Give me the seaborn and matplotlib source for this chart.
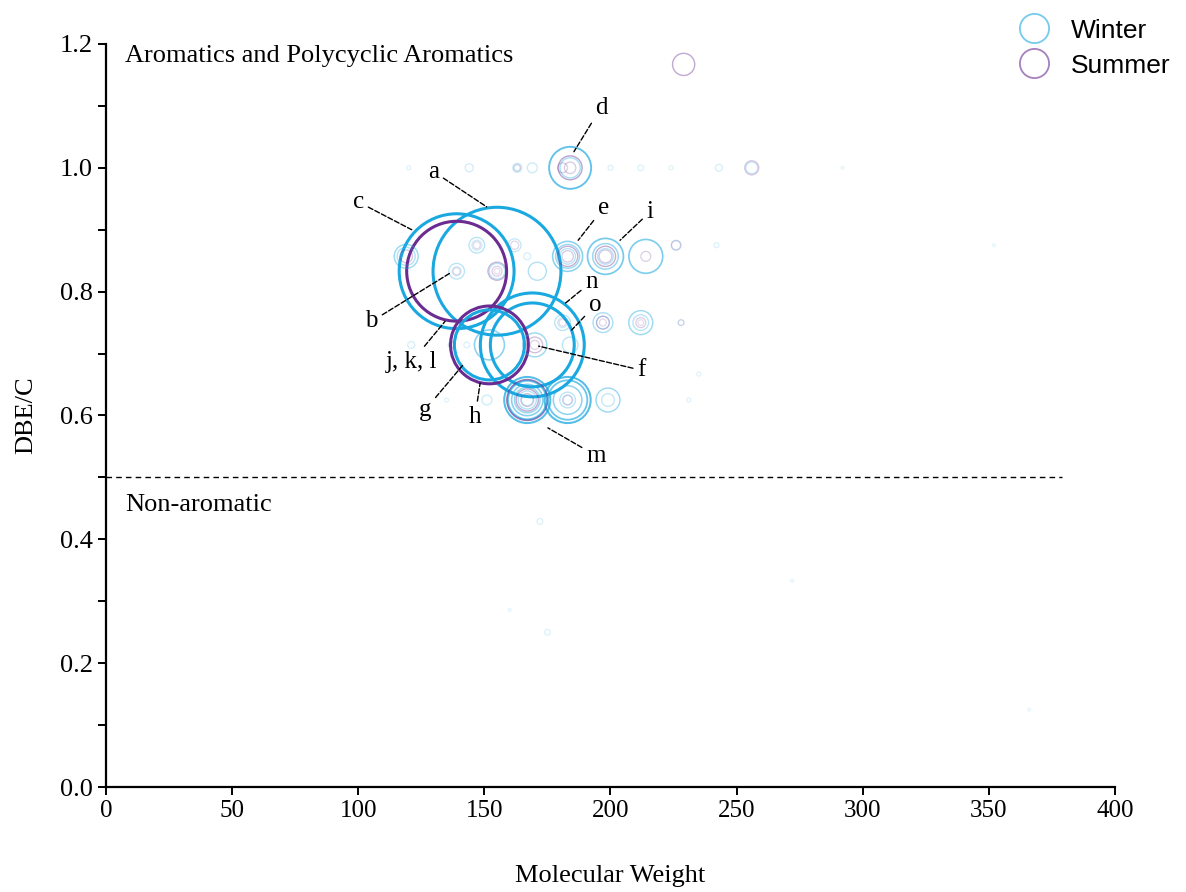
import numpy as np
import pandas as pd
import matplotlib
matplotlib.use("Agg")
import matplotlib.pyplot as plt
import seaborn as sns
from matplotlib.lines import Line2D
from matplotlib.ticker import MultipleLocator
from matplotlib.colors import to_rgba

# ---------------- data ----------------
# Winter: molecular weight, DBE/C, relative intensity
winter_mw = [120, 144, 163, 163, 169, 184, 184, 200, 212, 224, 243, 256, 292,
             119, 119, 147, 147, 139, 139, 155, 162, 167, 171,
             183, 183, 183, 198, 198, 198, 214, 226, 242, 352,
             155, 139,
             152, 152, 169, 169, 170,
             181, 181, 197, 197, 212, 212, 228,
             121, 137, 184, 143,
             167, 167, 167, 167, 167, 167,
             183, 183, 183, 183, 183,
             199, 199, 151, 135, 231, 235,
             172, 175, 160, 272, 366]
winter_dbe = [1.0, 1.0, 1.0, 1.0, 1.0, 1.0, 1.0, 1.0, 1.0, 1.0, 1.0, 1.0, 1.0,
              0.857, 0.857, 0.875, 0.875, 0.833, 0.833, 0.833, 0.875, 0.857, 0.833,
              0.857, 0.857, 0.857, 0.857, 0.857, 0.857, 0.857, 0.875, 0.875, 0.875,
              0.833, 0.833,
              0.714, 0.714, 0.714, 0.714, 0.714,
              0.75, 0.75, 0.75, 0.75, 0.75, 0.75, 0.75,
              0.714, 0.714, 0.714, 0.714,
              0.625, 0.625, 0.625, 0.625, 0.625, 0.625,
              0.625, 0.625, 0.625, 0.625, 0.625,
              0.625, 0.625, 0.625, 0.625, 0.625, 0.667,
              0.429, 0.25, 0.286, 0.333, 0.125]
winter_int = [0.1, 0.4, 0.5, 0.2, 0.6, 10.8, 2.5, 0.15, 0.2, 0.1, 0.3, 0.8, 0.05,
              3.5, 2.0, 1.5, 0.6, 1.5, 0.5, 1.5, 1.0, 0.3, 2.0,
              5.5, 3.5, 1.5, 7.9, 4.0, 1.5, 7.0, 0.6, 0.15, 0.05,
              100.0, 80.7,
              30.0, 5.5, 66.0, 43.0, 3.5,
              1.5, 0.6, 2.4, 1.0, 3.5, 1.5, 0.2,
              0.3, 0.3, 1.5, 0.2,
              13.0, 9.0, 6.0, 4.0, 2.0, 0.8,
              13.0, 9.5, 5.0, 1.5, 0.5,
              3.5, 1.0, 0.6, 0.1, 0.1, 0.1,
              0.2, 0.2, 0.05, 0.05, 0.05]

# Summer
summer_mw = [181, 184, 184, 163, 256, 229,
             155, 155, 155, 183, 183, 198, 198, 214, 162, 119, 147, 139, 226,
             139,
             152, 170, 170,
             197, 197, 212, 212, 181, 228,
             137,
             167, 167, 167, 183]
summer_dbe = [1.0, 1.0, 1.0, 1.0, 1.0, 1.167,
              0.833, 0.833, 0.833, 0.857, 0.857, 0.857, 0.857, 0.857, 0.875, 0.857, 0.875, 0.833, 0.875,
              0.833,
              0.714, 0.714, 0.714,
              0.75, 0.75, 0.75, 0.75, 0.75, 0.75,
              0.714,
              0.625, 0.625, 0.625, 0.625]
summer_int = [0.6, 3.5, 0.8, 0.3, 1.2, 3.0,
              2.0, 0.6, 0.2, 2.5, 0.8, 2.5, 1.0, 0.6, 0.4, 1.0, 0.3, 0.3, 0.5,
              61.0,
              37.0, 1.5, 0.5,
              1.0, 0.3, 0.6, 0.2, 0.3, 0.2,
              0.2,
              10.0, 3.0, 1.0, 0.6]

seasons = ["Winter", "Summer"]
season_colors = {"Winter": "#1AA8E0", "Summer": "#6A2C91"}

# annotation labels
ann_labels = ["a", "c", "d", "e", "i", "n", "o", "f", "b", "j, k, l", "g", "h", "m"]
ann_text = [(129.8, 0.994), (100.0, 0.945), (196.2, 1.097), (197.2, 0.935), (215.7, 0.929),
            (192.5, 0.816), (193.9, 0.778), (212.4, 0.673), (105.3, 0.752), (121.2, 0.687),
            (126.5, 0.609), (146.3, 0.598), (194.3, 0.535)]
ann_target = [(150.9, 0.937), (121.2, 0.900), (185.5, 1.026), (187.2, 0.883), (203.8, 0.883),
              (182.0, 0.781), (184.6, 0.738), (171.5, 0.712), (136.4, 0.830), (134.4, 0.752),
              (141.6, 0.682), (148.3, 0.652), (175.2, 0.580)]

df = pd.concat([
    pd.DataFrame({"MW": winter_mw, "DBE": winter_dbe, "I": winter_int, "Season": "Winter"}),
    pd.DataFrame({"MW": summer_mw, "DBE": summer_dbe, "I": summer_int, "Season": "Summer"}),
], ignore_index=True)
df = df.sort_values("I", ascending=False, kind="stable").reset_index(drop=True)

# ---------------- plot ----------------
sns.set_theme(style="ticks")
plt.rcParams["font.family"] = ["Liberation Serif", "DejaVu Serif"]
plt.rcParams["text.color"] = "black"
plt.rcParams["axes.labelcolor"] = "black"
plt.rcParams["xtick.color"] = "black"
plt.rcParams["ytick.color"] = "black"

fig = plt.figure(figsize=(11.86, 8.92), dpi=100)
ax = fig.add_axes([0.0894, 0.1177, 0.8507, 0.833])

# marker area proportional to intensity (I=100 -> radius ~64 px)
smax = 2.07 * 64 ** 2
sns.scatterplot(data=df, x="MW", y="DBE", hue="Season", size="I",
                sizes=(0, smax), size_norm=(0, 100), palette=season_colors,
                hue_order=seasons, legend=False, ax=ax, marker="o")

coll = ax.collections[0]
alphas = np.clip(0.08 + 0.92 * np.sqrt(df["I"].to_numpy() / 25.0), 0, 1)
edge = [to_rgba(season_colors[s], a) for s, a in zip(df["Season"], alphas)]
lws = 0.9 + 1.3 * np.clip(df["I"].to_numpy() / 30.0, 0, 1)
coll.set_facecolors("none")
coll.set_edgecolors(edge)
coll.set_linewidths(lws)

ax.set_xlim(0, 400)
ax.set_ylim(0, 1.2)
ax.xaxis.set_major_locator(MultipleLocator(50))
ax.yaxis.set_major_locator(MultipleLocator(0.2))
ax.yaxis.set_minor_locator(MultipleLocator(0.1))
ax.yaxis.set_major_formatter(matplotlib.ticker.FormatStrFormatter("%.1f"))
for side in ["top", "right"]:
    ax.spines[side].set_visible(False)
for side in ["left", "bottom"]:
    ax.spines[side].set_linewidth(1.6)
    ax.spines[side].set_color("black")
ax.tick_params(axis="both", which="both", direction="out", length=6, width=1.4,
               colors="black")
ax.tick_params(axis="x", labelsize=18)
ax.tick_params(axis="y", labelsize=19)
ax.tick_params(axis="y", which="minor", length=6)
ax.set_xlabel("Molecular Weight", fontsize=19, labelpad=31)
ax.set_ylabel("DBE/C", fontsize=19, labelpad=16)

# reference line between aromatic / non aromatic
ax.plot([0, 379], [0.5, 0.5], ls="--", lw=1.0, color="black", dashes=(4, 3))
ax.text(7.5, 1.18, "Aromatics and Polycyclic Aromatics", fontsize=19, va="center", ha="left")
ax.text(7.5, 0.455, "Non-aromatic", fontsize=19, va="center", ha="left")

for lab, txy, pxy in zip(ann_labels, ann_text, ann_target):
    ax.annotate(lab, xy=pxy, xytext=txy, ha="center", va="center", fontsize=18,
                arrowprops=dict(arrowstyle="-", ls="--", lw=1.0, color="black",
                                shrinkA=1, shrinkB=0))

handles = [Line2D([], [], marker="o", ls="none", markersize=21, markerfacecolor="none",
                  markeredgecolor=to_rgba(season_colors[s], 0.6), markeredgewidth=1.3)
           for s in seasons]
fig.legend(handles, seasons, loc="upper right", bbox_to_anchor=(1.0, 0.997), frameon=False,
           prop={"family": "Liberation Sans", "size": 19}, labelspacing=0.42,
           handletextpad=0.4, borderaxespad=0.2)

fig.savefig("out.png", dpi=100)
